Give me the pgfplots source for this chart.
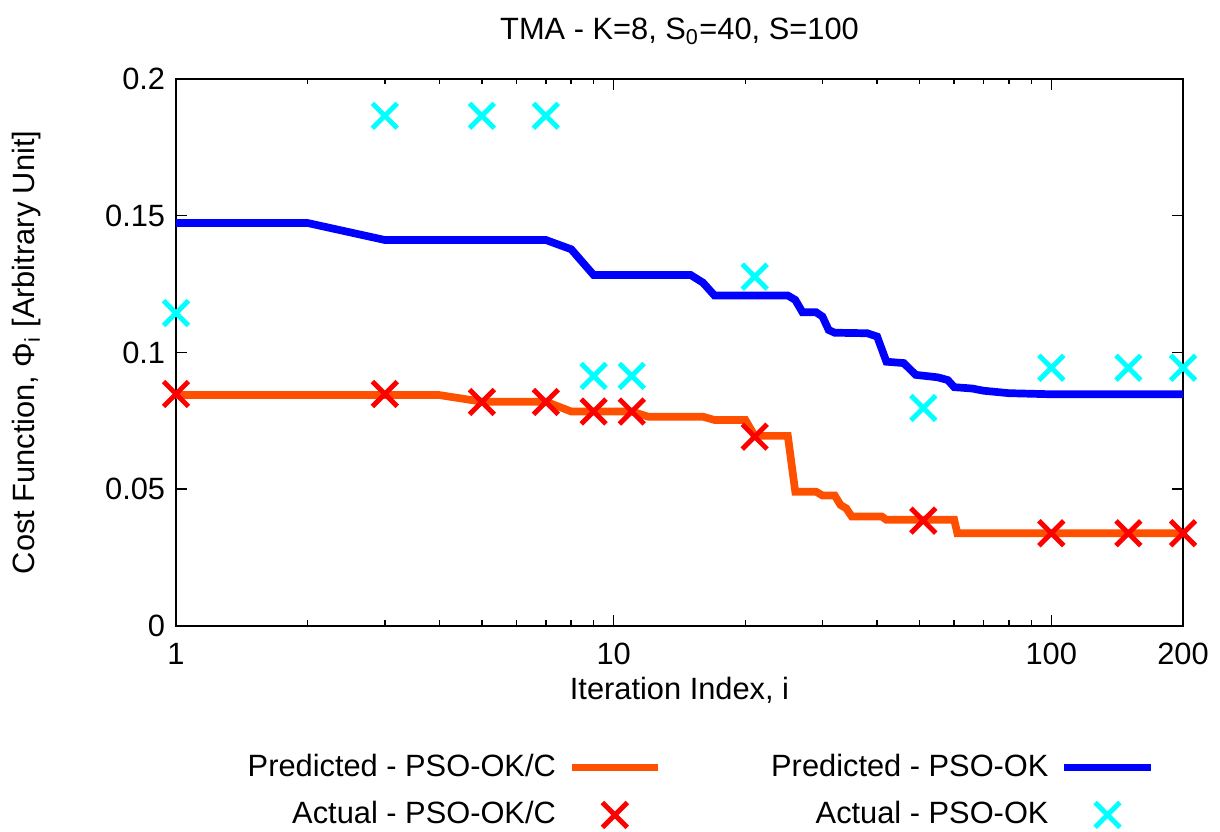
\documentclass[border=0pt]{standalone}
\usepackage{pgfplots}
\pgfplotsset{compat=1.18}
\usepackage{fontspec}
\setmainfont{Liberation Sans}
\definecolor{predC}{RGB}{255,80,0}
\definecolor{predB}{RGB}{0,0,255}
\definecolor{actC}{RGB}{255,0,0}
\definecolor{actB}{RGB}{0,255,255}
\pgfplotsset{
  lineleg/.style={legend image code/.code={\draw[##1] (0pt,0pt) -- (28pt,0pt);}},
  markleg/.style={legend image code/.code={\draw[mark repeat=2,mark phase=2,##1] plot coordinates {(0pt,0pt) (14pt,0pt) (28pt,0pt)};}},
}
\begin{document}
\begin{tikzpicture}
\begin{axis}[
  at={(0,0)}, anchor=south west,
  scale only axis, width=326.9pt, height=177.6pt,
  xmode=log, xmin=1, xmax=200, ymin=0, ymax=0.2,
  xtick={1,10,100,200}, xticklabels={1,10,100,200},
  minor xtick={2,3,4,5,6,7,8,9,20,30,40,50,60,70,80,90},
  ytick={0,0.05,0.1,0.15,0.2}, yticklabels={0,0.05,0.1,0.15,0.2},
  /pgf/number format/assume math mode=true,
  tick align=inside, major tick length=3.5pt, minor tick length=1.8pt,
  every tick/.style={black, line width=0.5pt},
  axis line style={line width=0.65pt},
  clip mode=individual,
  xticklabel style={yshift=-2pt},
  title={TMA - K=8, S\textsubscript{0}=40, S=100},
  title style={at={(axis description cs:0.5,1.0896)}, anchor=center, yshift=-6.5pt},
  xlabel={Iteration Index, i},
  xlabel style={at={(axis description cs:0.5,-0.117)}, anchor=center},
  ylabel={Cost Function, Φ\textsubscript{i} [Arbitrary Unit]},
  ylabel style={at={(axis description cs:-0.148,0.5)}, anchor=center},
  legend columns=2,
  legend plot pos=right,
  legend cell align=right,
  legend style={draw=none, fill=none, at={(axis description cs:0.0645,-0.2214)}, anchor=north west,
    inner sep=0pt, row sep=2.7pt,
    /tikz/column 1/.style={column sep=1.9pt},
    /tikz/column 2/.style={column sep=33.5pt},
    /tikz/column 3/.style={column sep=1.9pt}},
]
\addplot[predC, line width=2.5pt, lineleg] coordinates {
(1,0.0844) (4,0.0844) (5,0.0820) (7,0.0820) (8,0.0784) (11,0.0784) (12,0.0765) (16,0.0765)
(17,0.0753) (20,0.0753) (21,0.0695) (25,0.0695) (26,0.0491) (29,0.0491) (30,0.0477) (32,0.0477)
(33,0.0442) (34,0.0430) (35,0.0400) (41,0.0400) (42,0.0388) (60,0.0388) (61,0.0339) (200,0.0339)};
\addlegendentry{Predicted - PSO-OK/C}
\addplot[predB, line width=2.5pt, lineleg] coordinates {
(1,0.1473) (2,0.1473) (3,0.1411) (7,0.1411) (8,0.1377) (9,0.1283) (15,0.1283) (16,0.1255)
(17,0.1208) (25,0.1208) (26,0.1192) (27,0.1147) (29,0.1147) (30,0.1131) (31,0.1082) (32,0.1072)
(38,0.1070) (40,0.1058) (42,0.0966) (46,0.0961) (49,0.0918) (55,0.0909) (58,0.0899) (60,0.0873)
(66,0.0868) (70,0.0860) (80,0.0851) (100,0.0847) (200,0.0847)};
\addlegendentry{Predicted - PSO-OK}
\addplot[only marks, mark=x, mark size=5.7pt, actC, mark options={line width=1.6pt}, markleg] coordinates {
(1,0.0848) (3,0.0848) (5,0.0819) (7,0.0819) (9,0.0784) (11,0.0784) (21,0.0692) (51,0.0385)
(100,0.0339) (150,0.0339) (200,0.0339)};
\addlegendentry{Actual - PSO-OK/C}
\addplot[only marks, mark=x, mark size=5.7pt, actB, mark options={line width=1.6pt}, markleg] coordinates {
(1,0.1144) (3,0.1865) (5,0.1865) (7,0.1865) (9,0.0914) (11,0.0914) (21,0.1277) (51,0.0797)
(100,0.0944) (150,0.0944) (200,0.0944)};
\addlegendentry{Actual - PSO-OK}
\end{axis}
\pgfresetboundingbox
\path[use as bounding box] (-57.13pt,-66.87pt) rectangle (338.9pt,203.2pt);
\end{tikzpicture}
\end{document}
